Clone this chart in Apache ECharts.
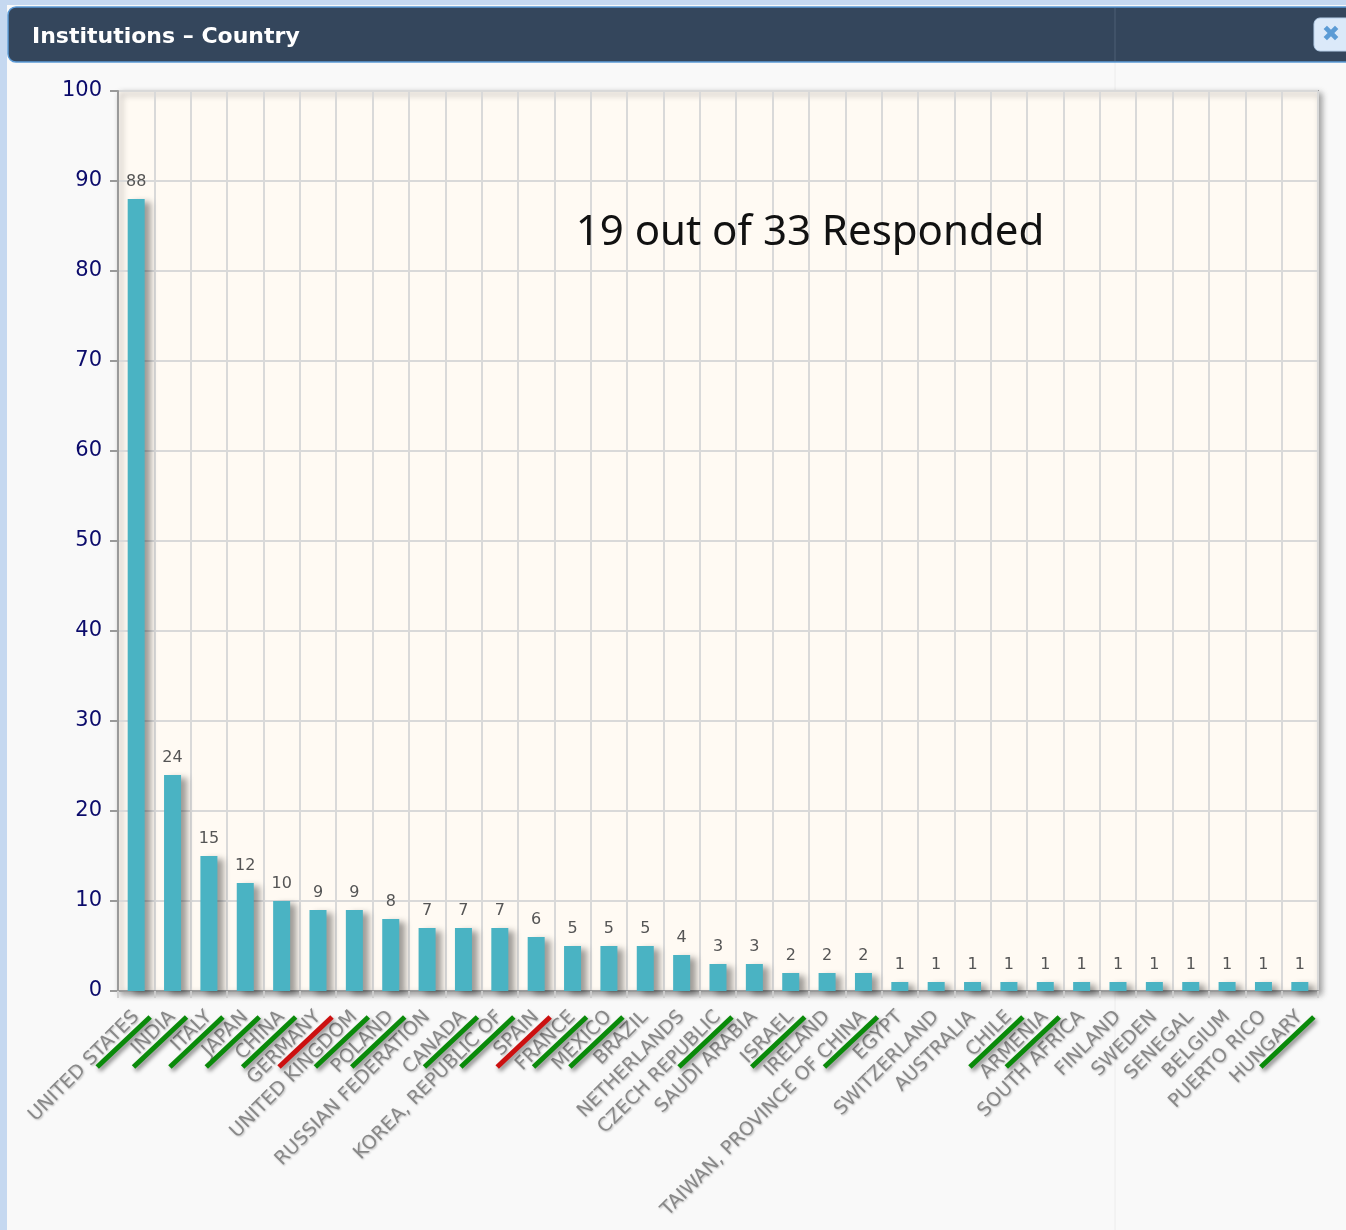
<!DOCTYPE html>
<html>
<head>
<meta charset="utf-8">
<script src="https://cdn.jsdelivr.net/npm/echarts@6/dist/echarts.min.js"></script>
<style>
html,body{margin:0;padding:0;background:#f9f9f9;}
#c{width:1346px;height:1230px;}
</style>
</head>
<body>
<div id="c"></div>
<script>
const categories = ['UNITED STATES','INDIA','ITALY','JAPAN','CHINA','GERMANY','UNITED KINGDOM','POLAND','RUSSIAN FEDERATION','CANADA','KOREA, REPUBLIC OF','SPAIN','FRANCE','MEXICO','BRAZIL','NETHERLANDS','CZECH REPUBLIC','SAUDI ARABIA','ISRAEL','IRELAND','TAIWAN, PROVINCE OF CHINA','EGYPT','SWITZERLAND','AUSTRALIA','CHILE','ARMENIA','SOUTH AFRICA','FINLAND','SWEDEN','SENEGAL','BELGIUM','PUERTO RICO','HUNGARY'];
const counts = [88,24,15,12,10,9,9,8,7,7,7,6,5,5,5,4,3,3,2,2,2,1,1,1,1,1,1,1,1,1,1,1,1];
// response marks: 'g' responded (green), 'r' red mark, '' none
const responded = ['g','g','g','g','g','r','g','g','','g','g','r','g','g','','','g','','g','','g','','','','g','g','','','','','','','g'];
const yTicks = [0,10,20,30,40,50,60,70,80,90,100];
const titleText = 'Institutions \u2013 Country';
const noteText = '19 out of 33 Responded';

const chart = echarts.init(document.getElementById('c'), null, {renderer:'canvas'});
const markData = [];
responded.forEach((s,i)=>{ if(s) markData.push([i,0,s==='g'?1:2]); });

chart.setOption({
  animation:false,
  backgroundColor:'#f9f9f9',
  graphic:[
    {type:'rect', shape:{x:0,y:0,width:7,height:1230}, style:{fill:'#c5d8f0'}, z:-10},
    {type:'rect', shape:{x:0,y:0,width:1346,height:5}, style:{fill:'#c5d8f0'}, z:-10},
    {type:'line', shape:{x1:1115,y1:60,x2:1115,y2:1230}, style:{stroke:'#ececec',lineWidth:1}, z:-9},
    {type:'rect', shape:{x:8,y:7,width:1360,height:55,r:8}, style:{fill:'#34465c',stroke:'#5b9ad6',lineWidth:1.5}, z:10},
    {type:'line', shape:{x1:1115,y1:8,x2:1115,y2:61}, style:{stroke:'#4d5e74',lineWidth:1}, z:11},
    {type:'text', x:32, y:37, style:{text:titleText, fill:'#ffffff', font:'bold 22px "DejaVu Sans"', textVerticalAlign:'middle'}, z:12},
    {type:'rect', shape:{x:1314,y:18,width:40,height:33,r:6}, style:{fill:'#dbe9f9',stroke:'#b8d0ea',lineWidth:1}, z:12},
    {type:'text', x:1331, y:35, style:{text:'\u2716', fill:'#5b9bd5', font:'bold 22px "DejaVu Sans"', textAlign:'center', textVerticalAlign:'middle'}, z:13},
    {type:'text', x:810, y:233, style:{text:noteText, fill:'#111111', font:'42px "Noto Sans"', textAlign:'center', textVerticalAlign:'middle'}, z:20}
  ],
  grid:{left:118, top:91, width:1200, height:900, show:true, backgroundColor:'#fffaf3', borderColor:'#9a9a9a', borderWidth:2,
        shadowColor:'rgba(0,0,0,0.35)', shadowBlur:6, shadowOffsetX:3, shadowOffsetY:3},
  xAxis:{type:'category', data:categories,
    axisLine:{lineStyle:{color:'#9a9a9a',width:2}},
    axisTick:{show:true,length:7,lineStyle:{color:'#cfcfcf',width:2}},
    splitLine:{show:true,lineStyle:{color:'#d9d9d9',width:2}},
    axisLabel:{rotate:45, interval:0, color:'#888888', fontFamily:'DejaVu Sans', fontSize:19, margin:23,
      textShadowColor:'rgba(0,0,0,0.25)', textShadowBlur:2, textShadowOffsetX:1, textShadowOffsetY:1}},
  yAxis:{type:'value', min:0, max:100, interval:10,
    axisLine:{show:true,lineStyle:{color:'#9a9a9a',width:2}},
    axisTick:{show:true,length:8,lineStyle:{color:'#9a9a9a',width:2}},
    splitLine:{show:true,lineStyle:{color:'#d9d9d9',width:2}},
    axisLabel:{color:'#0b0b6b', fontFamily:'DejaVu Sans', fontSize:21, margin:16,
      formatter:v=>yTicks.indexOf(v)>=0?String(v):''}},
  series:[
    {type:'bar', data:counts, barWidth:17,
     itemStyle:{color:'#4ab3c3', shadowColor:'rgba(0,0,0,0.38)', shadowBlur:6, shadowOffsetX:6, shadowOffsetY:3},
     label:{show:true, position:'top', distance:9, color:'#555555', fontFamily:'DejaVu Sans', fontSize:16}},
    {type:'custom', data:markData, clip:false, z:10,
     encode:{x:0,y:1},
     renderItem:function(params, api){
       const p = api.coord([api.value(0), 0]);
       const col = api.value(2)===1 ? '#0a8a0a' : '#cc1010';
       return {type:'line', shape:{x1:p[0]-39, y1:p[1]+76, x2:p[0]+14, y2:p[1]+26},
         style:{stroke:col, lineWidth:5, shadowColor:'rgba(0,0,0,0.45)', shadowBlur:4, shadowOffsetX:2, shadowOffsetY:3}};
     }}
  ]
});
</script>
</body>
</html>
